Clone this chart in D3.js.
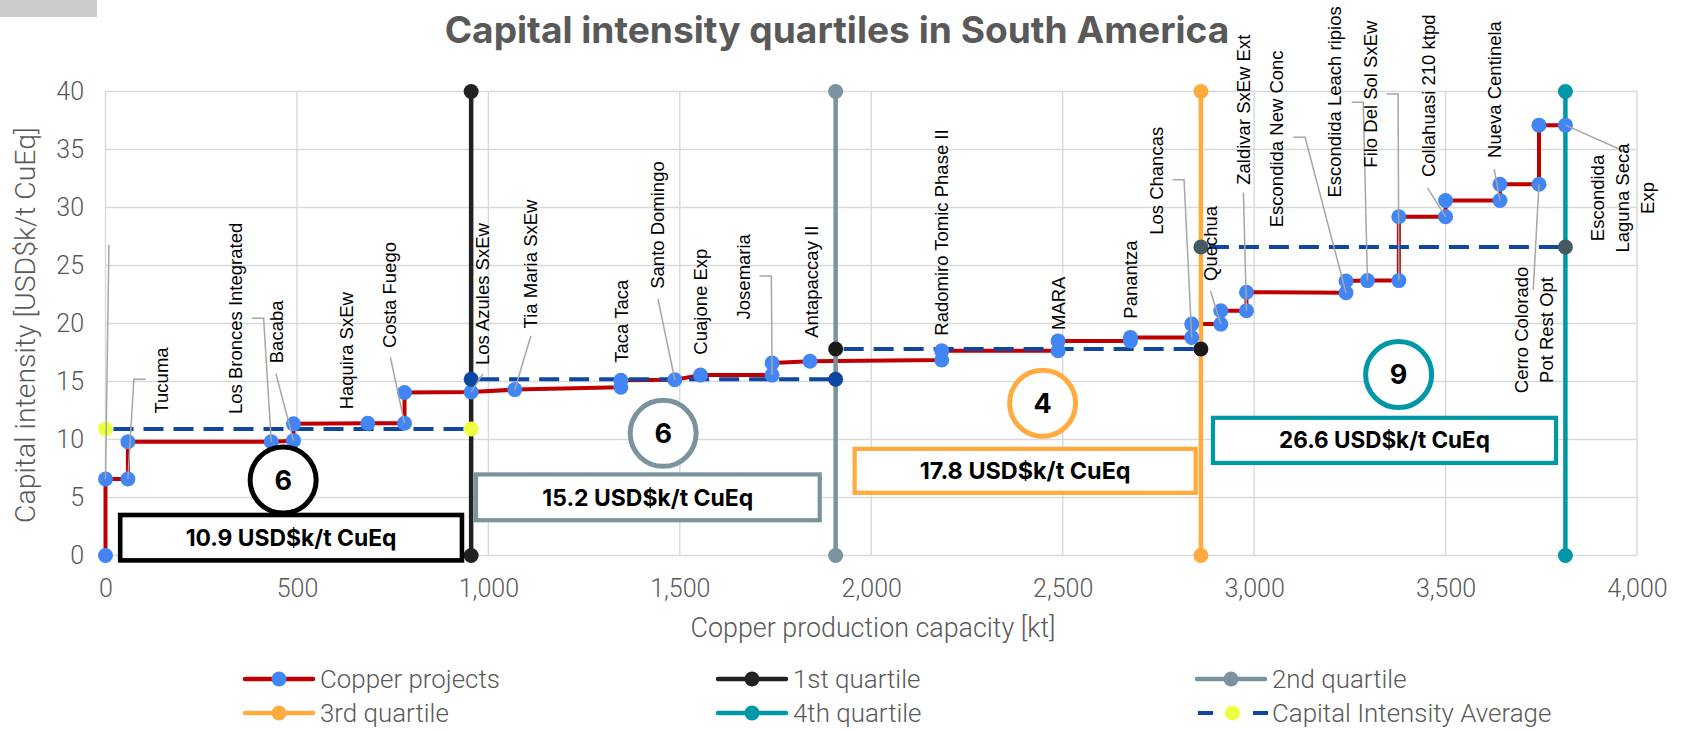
<!DOCTYPE html>
<html><head><meta charset="utf-8">
<script src="https://cdn.jsdelivr.net/npm/d3@7"></script>
<style>html,body{margin:0;padding:0;background:#fff;} svg{display:block;}</style>
</head><body>
<svg id="chart" width="1688" height="730"></svg>
<script>
// ---------------- DATA ----------------
const chartTitle = "Capital intensity quartiles in South America";
const xAxisTitle = "Copper production capacity [kt]";
const yAxisTitle = "Capital intensity [USD$k/t CuEq]";
const xTicks = [0, 500, 1000, 1500, 2000, 2500, 3000, 3500, 4000];
const yTicks = [0, 5, 10, 15, 20, 25, 30, 35, 40];

// step-curve vertices of the "Copper projects" series
const capacityKt = [0,0,58.5,58.5,433,491,491,685,781,781,955,1069,1346,1346,1487,1554,1741,1741,1840,2184,2184,2488,2488,2677,2677,2837,2837,2913,2913,2980,2980,3240,3240,3296,3378,3378,3500,3500,3642,3642,3744,3744,3813];
const intensity  = [0,6.6,6.6,9.8,9.8,9.9,11.35,11.4,11.4,14.05,14.1,14.3,14.5,15.1,15.15,15.55,15.55,16.6,16.75,16.85,17.65,17.65,18.5,18.5,18.8,18.8,19.95,19.95,21.1,21.1,22.7,22.65,23.66,23.7,23.7,29.2,29.2,30.6,30.6,32.0,32.0,37.1,37.1];

const projectNames = ["Tucuma","Los Bronces Integrated","Bacaba","Haquira SxEw","Costa Fuego","Los Azules SxEw","Tia Maria SxEw","Taca Taca","Santo Domingo","Cuajone Exp","Josemaria","Antapaccay II","Radomiro Tomic Phase II","MARA","Panantza","Los Chancas","Quechua","Zaldivar SxEw Ext","Escondida New Conc","Escondida Leach ripios","Filo Del Sol SxEw","Collahuasi 210 ktpd","Nueva Centinela","Cerro Colorado\nPot Rest Opt","Escondida\nLaguna Seca\nExp"];

const quartileNames = ["1st quartile","2nd quartile","3rd quartile","4th quartile"];
const quartileBounds = [0, 955, 1907, 2861, 3813];
const quartileAvg = [10.9, 15.2, 17.8, 26.6];
const quartileCount = [6, 6, 4, 9];
const avgUnit = "USD$k/t CuEq";
const avgSeriesName = "Capital Intensity Average";
const projectSeriesName = "Copper projects";

// ---------------- LAYOUT / STYLE ----------------
const quartileColors = ["#212121", "#7b939e", "#ffab40", "#0097a7"];
const avgMarkerColors = ["#eeff41", "#0d47a1", "#1a1a1a", "#455a64"];
const RED = "#c00000", BLUE = "#4285f4", DASH = "#0d47a1", GRID = "#d9d9d9", AXIS_TXT = "#595959";

// label placement in data space (center of text block) and leader elbows
const labelLayout = [
 {cx:146, cy:15.09, via:[[105,15.2],[74,15.2]], pt:2},
 {cx:340, cy:20.44, via:[[382,20.45],[413,20.45]], pt:4},
 {cx:447, cy:19.28, via:[[445,15.7]], pt:5},
 {cx:629, cy:17.65},
 {cx:743, cy:22.46, via:[[744,17.1]], pt:8},
 {cx:985.6, cy:22.54, via:[[985.6,15.65]], pt:10},
 {cx:1111, cy:25.13, via:[[1111,18.95]], pt:11},
 {cx:1347, cy:20.2},
 {cx:1443, cy:28.49, via:[[1443,22.1]], pt:14},
 {cx:1554.5, cy:21.88},
 {cx:1666.5, cy:24.03, via:[[1708,24.1],[1739,24.1]], pt:16},
 {cx:1843.6, cy:23.6},
 {cx:2184, cy:27.84},
 {cx:2488, cy:21.74},
 {cx:2677.5, cy:23.79},
 {cx:2745, cy:32.3, via:[[2787,32.4],[2817,32.4]], pt:25},
 {cx:2886, cy:26.9, via:[[2886,22.8]], pt:27},
 {cx:2971.5, cy:38.43, via:[[2972,31.3]], pt:29},
 {cx:3058.7, cy:35.92, via:[[3102,36.05],[3133,36.05]], pt:31},
 {cx:3211, cy:39.1, via:[[3255,39.07],[3285,39.07]], pt:33},
 {cx:3303, cy:39.77, via:[[3346,39.78],[3376,39.78]], pt:34},
 {cx:3454.6, cy:39.63, via:[[3453,31.7]], pt:36},
 {cx:3627, cy:40.17, via:[[3627,33.3]], pt:38},
 {cx:3731, cy:19.44, via:[[3729,22.9]], pt:40},
 {cx:3962, cy:30.82, via:[[3977,34.7]], pt:42}
];
const extraLeaders = [{via:[[9,26.8]], pt:1}];

const boxLayout = [
 {x0:32.4, x1:937,  y0:-0.62, y1:3.69, cx:464,    cy:6.5,   sw:4.6},
 {x0:962,  x1:1871, y0:2.86,  y1:7.17, cx:1456.5, cy:10.53, sw:4.2},
 {x0:1951, x1:2853, y0:5.22,  y1:9.38, cx:2447.6, cy:13.12, sw:4.3},
 {x0:2887, x1:3794, y0:7.8,   y1:12.05,cx:3377.4, cy:15.6,  sw:4.2}
];

// ---------------- SCALES ----------------
const svg = d3.select("#chart");
const x = d3.scaleLinear().domain([0, 4000]).range([105.5, 1637]);
const y = d3.scaleLinear().domain([0, 40]).range([555.5, 91.5]);

function fitWidth(sel, target) {
  const w = sel.node().getComputedTextLength();
  const fs = parseFloat(sel.attr("font-size"));
  const nfs = w > 0 ? fs * target / w : fs;
  sel.attr("font-size", nfs.toFixed(2));
  return nfs;
}

// grey tab top-left
svg.append("rect").attr("x", 0).attr("y", 0).attr("width", 97).attr("height", 17).attr("fill", "#cccccc");

// title
const t = svg.append("text").attr("x", 837).attr("y", 43).attr("text-anchor", "middle")
  .attr("font-family", "Inter, 'Open Sans', sans-serif").attr("font-weight", 700)
  .attr("font-size", 33).attr("fill", AXIS_TXT).text(chartTitle);
fitWidth(t, 785);

// grid
const grid = svg.append("g");
grid.selectAll("line.h").data(yTicks).join("line").attr("class", "h")
  .attr("x1", x(0)).attr("x2", x(4000)).attr("y1", d => y(d)).attr("y2", d => y(d))
  .attr("stroke", GRID).attr("stroke-width", 1.4);
grid.selectAll("line.v").data(xTicks).join("line").attr("class", "v")
  .attr("y1", y(0)).attr("y2", y(40)).attr("x1", d => x(d)).attr("x2", d => x(d))
  .attr("stroke", GRID).attr("stroke-width", 1.4);

// axes
const yAxis = svg.append("g").attr("transform", `translate(${x(0)},0)`)
  .call(d3.axisLeft(y).tickValues(yTicks).tickSize(0).tickPadding(21.5));
const xAxis = svg.append("g").attr("transform", `translate(0,${y(0)})`)
  .call(d3.axisBottom(x).tickValues(xTicks).tickSize(0).tickPadding(24).tickFormat(d3.format(",")));
[yAxis, xAxis].forEach(a => {
  a.select(".domain").remove();
  a.selectAll("text").attr("font-family", "Roboto, sans-serif").attr("font-weight", 300)
    .attr("font-size", 25).attr("fill", AXIS_TXT);
});

const xt = svg.append("text").attr("x", 873).attr("y", 637).attr("text-anchor", "middle")
  .attr("font-family", "Roboto, sans-serif").attr("font-weight", 300).attr("font-size", 26).attr("fill", AXIS_TXT).text(xAxisTitle);
fitWidth(xt, 365);
const yt = svg.append("text").attr("transform", "translate(34.5,325) rotate(-90)").attr("text-anchor", "middle")
  .attr("font-family", "Roboto, sans-serif").attr("font-weight", 300).attr("font-size", 26).attr("fill", AXIS_TXT).text(yAxisTitle);
fitWidth(yt, 396);

// project step line
const pts = capacityKt.map((c, i) => [c, intensity[i]]);
const line = d3.line().x(d => x(d[0])).y(d => y(d[1]));
svg.append("path").datum(pts).attr("d", line).attr("fill", "none")
  .attr("stroke", RED).attr("stroke-width", 4).attr("stroke-linejoin", "round");

// quartile vertical lines
const qb = quartileBounds.slice(1);
svg.append("g").selectAll("line").data(qb).join("line")
  .attr("x1", d => x(d)).attr("x2", d => x(d)).attr("y1", y(0)).attr("y2", y(40))
  .attr("stroke", (d, i) => quartileColors[i]).attr("stroke-width", 4.5);

// average dashed lines
const avgSegs = quartileAvg.map((v, i) => ({x0: quartileBounds[i], x1: quartileBounds[i + 1], v, i}));
svg.append("g").selectAll("line").data(avgSegs).join("line")
  .attr("x1", d => x(d.x0)).attr("x2", d => x(d.x1)).attr("y1", d => y(d.v)).attr("y2", d => y(d.v))
  .attr("stroke", DASH).attr("stroke-width", 4).attr("stroke-dasharray", "20,10").attr("stroke-dashoffset", -8);

// project dots
svg.append("g").selectAll("circle").data(pts).join("circle")
  .attr("cx", d => x(d[0])).attr("cy", d => y(d[1])).attr("r", 7.5).attr("fill", BLUE);

// average markers
const avgPts = avgSegs.flatMap(s => [[s.x0, s.v, s.i], [s.x1, s.v, s.i]]);
svg.append("g").selectAll("circle").data(avgPts).join("circle")
  .attr("cx", d => x(d[0])).attr("cy", d => y(d[1])).attr("r", 7.5).attr("fill", d => avgMarkerColors[d[2]]);

// quartile end markers
const qPts = qb.flatMap((q, i) => [[q, 0, i], [q, 40, i]]);
svg.append("g").selectAll("circle").data(qPts).join("circle")
  .attr("cx", d => x(d[0])).attr("cy", d => y(d[1])).attr("r", 7.5).attr("fill", d => quartileColors[d[2]]);

// quartile annotation boxes + circles
boxLayout.forEach((b, i) => {
  const col = i === 0 ? "#000000" : quartileColors[i];
  const X0 = x(b.x0), X1 = x(b.x1), Y0 = y(b.y1), Y1 = y(b.y0);
  svg.append("rect").attr("x", X0 + b.sw / 2).attr("y", Y0 + b.sw / 2)
    .attr("width", X1 - X0 - b.sw).attr("height", Y1 - Y0 - b.sw)
    .attr("fill", "#fff").attr("stroke", col).attr("stroke-width", b.sw);
  const bt = svg.append("text").attr("x", (X0 + X1) / 2).attr("y", (Y0 + Y1) / 2)
    .attr("dy", "0.36em").attr("text-anchor", "middle")
    .attr("font-family", "Inter, sans-serif").attr("font-weight", 700).attr("font-size", 22)
    .attr("fill", "#000").text(`${quartileAvg[i]} ${avgUnit}`);
  fitWidth(bt, 211);
  svg.append("circle").attr("cx", x(b.cx)).attr("cy", y(b.cy)).attr("r", 33)
    .attr("fill", "#fff").attr("stroke", col).attr("stroke-width", 5);
  svg.append("text").attr("x", x(b.cx)).attr("y", y(b.cy)).attr("dy", "0.36em").attr("text-anchor", "middle")
    .attr("font-family", "Inter, sans-serif").attr("font-weight", 700).attr("font-size", 27)
    .attr("fill", "#000").text(quartileCount[i]);
});

// leaders
const leaderLine = d3.line().x(d => x(d[0])).y(d => y(d[1]));
const leaders = labelLayout.filter(l => l.via).concat(extraLeaders);
svg.append("g").selectAll("path").data(leaders).join("path")
  .attr("d", l => leaderLine(l.via.concat([pts[l.pt]])))
  .attr("fill", "none").attr("stroke", "#a6a6a6").attr("stroke-width", 1.5);

// project labels
const FS = 18.5, LH = 24.7;
const lg = svg.append("g").attr("font-family", "'Liberation Sans', Arial, sans-serif").attr("font-size", FS).attr("fill", "#000");
projectNames.forEach((name, i) => {
  const L = labelLayout[i];
  const lines = name.split("\n");
  const txt = lg.append("text").attr("transform", `translate(${x(L.cx)},${y(L.cy)}) rotate(-90)`).attr("text-anchor", "middle");
  lines.forEach((s, k) => {
    txt.append("tspan").attr("x", 0).attr("y", (k - (lines.length - 1) / 2) * LH + 0.35 * FS).text(s);
  });
});

// legend
const legendItems = [
  {name: projectSeriesName, color: RED, marker: BLUE},
  {name: quartileNames[0], color: quartileColors[0], marker: quartileColors[0]},
  {name: quartileNames[1], color: quartileColors[1], marker: quartileColors[1]},
  {name: quartileNames[2], color: quartileColors[2], marker: quartileColors[2]},
  {name: quartileNames[3], color: quartileColors[3], marker: quartileColors[3]},
  {name: avgSeriesName, color: DASH, marker: avgMarkerColors[0], dashed: true}
];
const colX = [245, 718, 1197], rowY = [679, 713];
let legendFS = 24;
legendItems.forEach((it, i) => {
  const sx = colX[i % 3], sy = rowY[Math.floor(i / 3)];
  const g = svg.append("g");
  if (it.dashed) {
    g.append("line").attr("x1", sx + 1).attr("x2", sx + 16).attr("y1", sy).attr("y2", sy).attr("stroke", it.color).attr("stroke-width", 4);
    g.append("line").attr("x1", sx + 56).attr("x2", sx + 71).attr("y1", sy).attr("y2", sy).attr("stroke", it.color).attr("stroke-width", 4);
    g.append("circle").attr("cx", sx + 35.5).attr("cy", sy).attr("r", 7.5).attr("fill", it.marker);
  } else {
    g.append("line").attr("x1", sx).attr("x2", sx + 68).attr("y1", sy).attr("y2", sy).attr("stroke", it.color).attr("stroke-width", 4.5).attr("stroke-linecap", "round");
    g.append("circle").attr("cx", sx + 34).attr("cy", sy).attr("r", 7.5).attr("fill", it.marker);
  }
  const tx = g.append("text").attr("x", sx + 75).attr("y", sy).attr("dy", "0.35em")
    .attr("font-family", "Roboto, sans-serif").attr("font-weight", 300).attr("font-size", legendFS).attr("fill", AXIS_TXT).text(it.name);
  if (i === 0) legendFS = fitWidth(tx, 180);
});
</script>
</body></html>
